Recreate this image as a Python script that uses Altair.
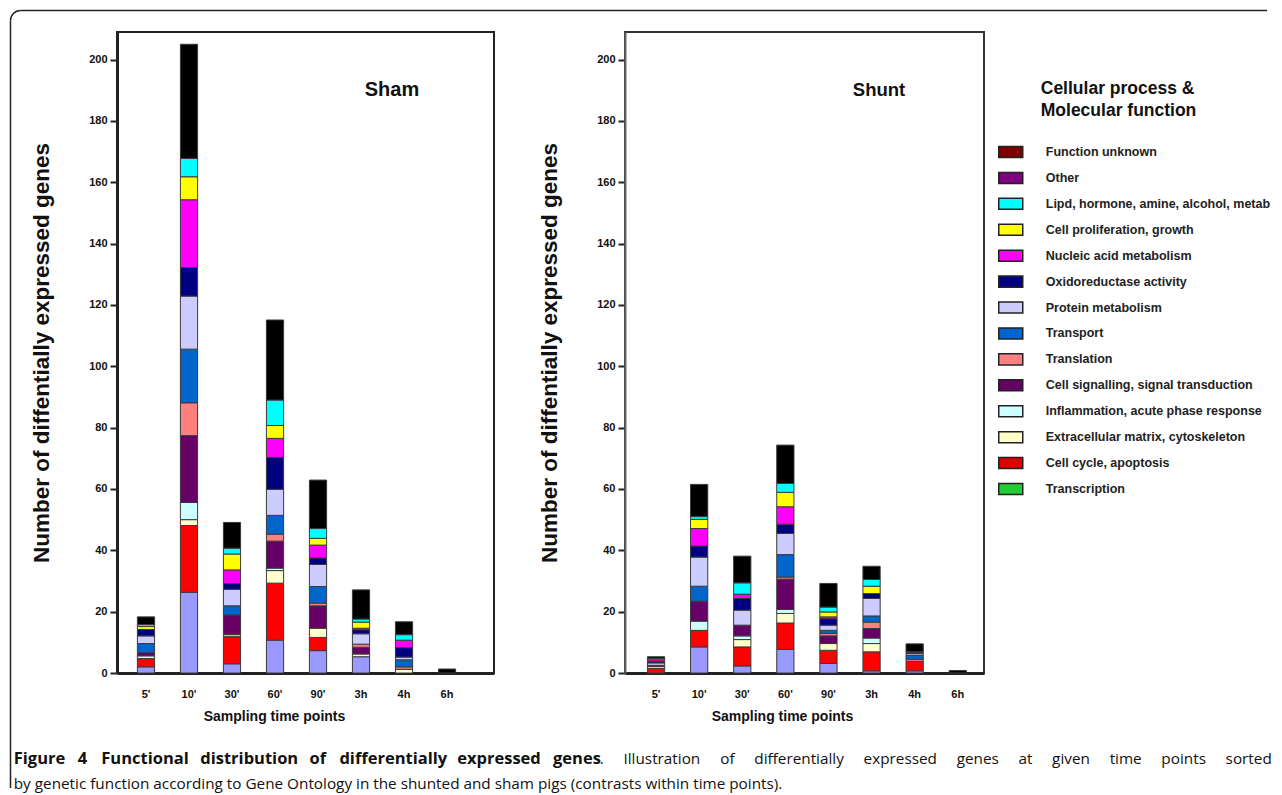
import altair as alt
import pandas as pd

# ---------------- data ----------------
TIME_POINTS = ["5'", "10'", "30'", "60'", "90'", "3h", "4h", "6h"]

# categories, bottom of the stack first
CATEGORIES = [
    "Transcription",
    "Cell cycle, apoptosis",
    "Extracellular matrix, cytoskeleton",
    "Inflammation, acute phase response",
    "Cell signalling, signal transduction",
    "Translation",
    "Transport",
    "Protein metabolism",
    "Oxidoreductase activity",
    "Nucleic acid metabolism",
    "Cell proliferation, growth",
    "Lipd, hormone, amine, alcohol, metab",
    "Other",
    "Function unknown",
]
BAR_COLORS = ["#9999FF", "#FF0000", "#FFFFCC", "#CCFFFF", "#660066", "#FF8080",
              "#0066CC", "#CCCCFF", "#000080", "#FF00FF", "#FFFF00", "#00FFFF",
              "#800080", "#000000"]
LEGEND_COLORS = ["#22CC33", "#E00000", "#FFFFCC", "#CCFFFF", "#660066", "#FF8080",
                 "#0066CC", "#CCCCFF", "#000080", "#FF00FF", "#FFFF00", "#00FFFF",
                 "#800080", "#800000"]

# Sham: values per time point, in CATEGORIES order
SHAM_5 = [2.0, 2.7, 0, 0.9, 1.0, 0, 3.0, 2.5, 2.1, 0, 1.0, 0.6, 0, 2.5]
SHAM_10 = [26.3, 21.8, 1.9, 5.6, 21.8, 10.7, 17.5, 17.3, 9.3, 22.1, 7.5, 6.0, 0, 37.2]
SHAM_30 = [3.0, 8.6, 0.4, 0.6, 6.3, 0, 3.0, 5.4, 1.9, 4.4, 5.2, 1.9, 0, 8.4]
SHAM_60 = [10.7, 18.6, 4.1, 0.8, 8.8, 2.3, 6.1, 8.5, 10.4, 6.2, 4.2, 8.3, 0, 26.1]
SHAM_90 = [7.3, 4.3, 3.0, 0, 7.3, 0.9, 5.4, 7.2, 2.1, 4.2, 2.2, 3.2, 0, 15.8]
SHAM_3H = [5.3, 0, 0.9, 0, 2.2, 1.0, 0, 3.4, 1.3, 0.5, 2.0, 1.0, 0, 9.5]
SHAM_4H = [0, 0, 1.2, 0, 0, 0.8, 2.3, 0.9, 3.1, 2.4, 0, 1.8, 0, 4.2]
SHAM_6H = [0, 0, 0, 0, 0, 0, 0, 0, 0, 0, 0, 0, 0, 1.3]

# Shunt
SHUNT_5 = [0, 1.5, 0, 0.6, 0.4, 0, 0, 0.8, 0.5, 0.5, 0, 0.5, 0, 0.5]
SHUNT_10 = [8.5, 5.4, 0, 3.0, 6.5, 0, 4.9, 9.5, 3.6, 5.7, 3.0, 0.9, 0, 10.5]
SHUNT_30 = [2.3, 6.2, 2.4, 1.2, 3.5, 0, 0, 4.9, 3.8, 1.4, 0, 3.7, 0, 8.7]
SHUNT_60 = [7.7, 8.6, 3.1, 1.3, 9.9, 0.7, 7.3, 6.9, 3.0, 5.7, 4.7, 2.9, 0, 12.5]
SHUNT_90 = [3.1, 4.3, 2.2, 0, 2.5, 0.8, 1.0, 1.7, 2.1, 0.6, 1.6, 1.6, 0, 7.7]
SHUNT_3H = [0.7, 6.2, 2.7, 1.8, 3.1, 2.1, 2.0, 5.7, 1.6, 0, 2.4, 2.2, 0, 4.3]
SHUNT_4H = [0.7, 3.1, 0, 0, 0, 0.7, 1.2, 0.6, 0.3, 0.3, 0, 0, 0, 2.6]
SHUNT_6H = [0, 0, 0, 0, 0, 0, 0, 0, 0, 0, 0, 0, 0, 0.8]

Y_TICKS = [0, 20, 40, 60, 80, 100, 120, 140, 160, 180, 200]
Y_TITLE = "Number of diffentially expressed genes"
X_TITLE = "Sampling time points"
LEGEND_TITLE_1 = "Cellular process &"
LEGEND_TITLE_2 = "Molecular function"
CAPTION_BOLD = "Figure 4 Functional distribution of differentially expressed genes"
CAPTION_REST = ". Illustration of differentially expressed genes at given time points sorted"
CAPTION_LINE2 = ("by genetic function according to Gene Ontology in the shunted and sham pigs "
                 "(contrasts within time points).")

FONT = "Liberation Sans"
CAP_FONT = "Open Sans"
CAP_SIZE = 15.3
CAP_BOLD_SIZE = 16.5


def long_df(rows):
    recs = []
    for t, vals in zip(TIME_POINTS, rows):
        for i, (cat, v) in enumerate(zip(CATEGORIES, vals)):
            recs.append({"time": t, "category": cat, "idx": i,
                         "color": BAR_COLORS[i], "value": v})
    return pd.DataFrame(recs)


sham_df = long_df([SHAM_5, SHAM_10, SHAM_30, SHAM_60, SHAM_90, SHAM_3H, SHAM_4H, SHAM_6H])
shunt_df = long_df([SHUNT_5, SHUNT_10, SHUNT_30, SHUNT_60, SHUNT_90, SHUNT_3H, SHUNT_4H, SHUNT_6H])

H = 641


def bars(df, pad_outer, align, ydomain_color="#222", ydomain_width=3):
    return alt.Chart(df).transform_filter("datum.value > 0").mark_bar(
        stroke="#3a3a3a", strokeWidth=1
    ).encode(
        x=alt.X("time:N", sort=TIME_POINTS,
                scale=alt.Scale(paddingInner=0.6, paddingOuter=pad_outer, align=align),
                axis=alt.Axis(title=X_TITLE, labelAngle=0, ticks=False, labelPadding=15,
                              titlePadding=10, titleX=157, titleFontSize=14,
                              labelFontSize=11, domainWidth=3, domainColor="#222")),
        y=alt.Y("value:Q", stack="zero",
                scale=alt.Scale(domain=[0, 209], nice=False),
                axis=alt.Axis(title=Y_TITLE, values=Y_TICKS, tickSize=7, tickWidth=2,
                              tickColor="#222", domainWidth=ydomain_width,
                              domainColor=ydomain_color,
                              labelPadding=3, labelFontSize=11, titleFontSize=22.5,
                              titlePadding=35)),
        fill=alt.Fill("color:N", scale=None),
        detail="category:N",
        order=alt.Order("idx:Q", sort="ascending"),
    )


def text_layer(txt, x, y, size, weight="bold", font=FONT, align="center", color="#111"):
    return alt.Chart(pd.DataFrame({"t": [txt]})).mark_text(
        font=font, fontSize=size, fontWeight=weight, align=align, baseline="middle",
        color=color
    ).encode(text="t:N", x=alt.value(x), y=alt.value(y))


one = pd.DataFrame({"k": [0]})
left_rule = alt.Chart(one).mark_rule(color="#222", strokeWidth=1.5).encode(
    x=alt.value(-106.5), y=alt.value(-11.5), y2=alt.value(756))
top_rule = alt.Chart(one).mark_rule(color="#222", strokeWidth=1.5).encode(
    x=alt.value(-96.5), x2=alt.value(1150), y=alt.value(-21.5))
corner = alt.Chart(one).mark_arc(color="#222", theta=4.712, theta2=6.283,
                                 radius=10.75, radius2=9.25).encode(
    x=alt.value(-96.5), y=alt.value(-11.5))

sham = alt.layer(
    bars(sham_df, 0.683, 0.347),
    text_layer("Sham", 275, 58, 20),
    left_rule, top_rule, corner,
).properties(width=377, height=H, view=alt.ViewBackground(stroke="#222", strokeWidth=2))

shunt = alt.layer(
    bars(shunt_df, 0.465, 0.56, "#666", 2),
    text_layer("Shunt", 254, 58, 18.5),
).properties(width=359, height=H, view=alt.ViewBackground(stroke="#333", strokeWidth=2))

# ---------------- caption: justified first line (approximate Open Sans advances) ----------------
_REG = {" ": .26, "a": .556, "b": .613, "c": .476, "d": .613, "e": .561, "f": .339,
        "g": .548, "h": .614, "i": .253, "k": .525, "l": .253, "m": .93, "n": .614,
        "o": .604, "p": .613, "r": .408, "s": .477, "t": .353, "u": .614, "v": .501,
        "w": .778, "x": .524, "y": .502, "I": .303, ".": .266}
_BOLD = {" ": .26, "a": .583, "b": .623, "c": .495, "d": .623, "e": .576, "f": .364,
         "g": .547, "h": .64, "i": .297, "l": .297, "n": .64, "o": .606, "p": .623,
         "r": .432, "s": .495, "t": .408, "u": .64, "x": .559, "y": .536, "F": .544,
         "4": .572, ".": .294}


def est_w(s, bold):
    tab, size = (_BOLD, CAP_BOLD_SIZE) if bold else (_REG, CAP_SIZE)
    return sum(tab.get(c, .56) for c in s) * size


def justify(words, bold, left, right, first_gap):
    """Place words so that they fill [left, right] (justified line)."""
    gaps = [first_gap] + [True] * (len(words) - 1)
    n_sp = sum(gaps)
    natural = sum(est_w(w, bold) for w in words) + n_sp * est_w(" ", bold)
    extra = (right - left - natural) / max(n_sp, 1)
    xs, x = [], left
    for w, g in zip(words, gaps):
        if g:
            x += est_w(" ", bold) + extra
        xs.append(x)
        x += est_w(w, bold)
    return xs


LEG_X0 = 1113.25  # page x of the legend panel origin
BOLD_END = 598
bold_words = CAPTION_BOLD.split(" ")
reg_words = ["."] + CAPTION_REST[2:].split(" ")
bold_x = justify(bold_words, True, 12 - LEG_X0, BOLD_END - LEG_X0, False)
reg_x = justify(reg_words, False, BOLD_END - LEG_X0, 1270 - LEG_X0, False)
cap_df = pd.DataFrame({"word": bold_words + reg_words,
                       "bold": [True] * len(bold_words) + [False] * len(reg_words),
                       "x": bold_x + reg_x})


def cap_words(bold):
    return alt.Chart(cap_df[cap_df["bold"] == bold]).mark_text(
        font=CAP_FONT, fontSize=CAP_BOLD_SIZE if bold else CAP_SIZE,
        fontWeight="bold" if bold else "normal",
        align="left", baseline="middle", color="#111"
    ).encode(x=alt.X("x:Q", scale=None, axis=None), y=alt.value(726.75), text="word:N")


# legend (top to bottom order as in the reference)
leg_df = pd.DataFrame({
    "label": CATEGORIES[::-1],
    "color": LEGEND_COLORS[::-1],
})
LEG_ORDER = CATEGORIES[::-1]
leg_y = alt.Y("label:N", sort=LEG_ORDER, axis=None,
              scale=alt.Scale(type="point", range=[120, 457], padding=0))
swatches = alt.Chart(leg_df).mark_point(
    shape="M-1,-0.46L1,-0.46L1,0.46L-1,0.46Z", size=576, filled=True,
    stroke="#222", strokeWidth=1.5, opacity=1
).encode(x=alt.value(-104.25), y=leg_y, fill=alt.Fill("color:N", scale=None))
labels = alt.Chart(leg_df).mark_text(
    font=FONT, fontSize=12.5, fontWeight="bold", align="left", baseline="middle",
    color="#222"
).encode(x=alt.value(-69.25), y=leg_y, text="label:N")

legend = alt.layer(
    swatches, labels,
    text_layer(LEGEND_TITLE_1, -74.25, 57, 17.5, align="left"),
    text_layer(LEGEND_TITLE_2, -74.25, 79, 17.5, align="left"),
    cap_words(True), cap_words(False),
    text_layer(CAPTION_LINE2, 12 - LEG_X0, 751.75, CAP_SIZE, "normal", CAP_FONT, "left", "#111"),
).properties(width=20, height=H)

chart = alt.hconcat(sham, shunt, legend, spacing=131, bounds="flush").properties(
    padding=0
).configure_view(stroke="transparent").configure_axis(
    labelFont=FONT, titleFont=FONT, labelFontWeight="bold", titleFontWeight="bold",
    labelColor="#111", titleColor="#111", grid=False
)

chart.save("out.html", embed_options={"renderer": "svg", "actions": False})
